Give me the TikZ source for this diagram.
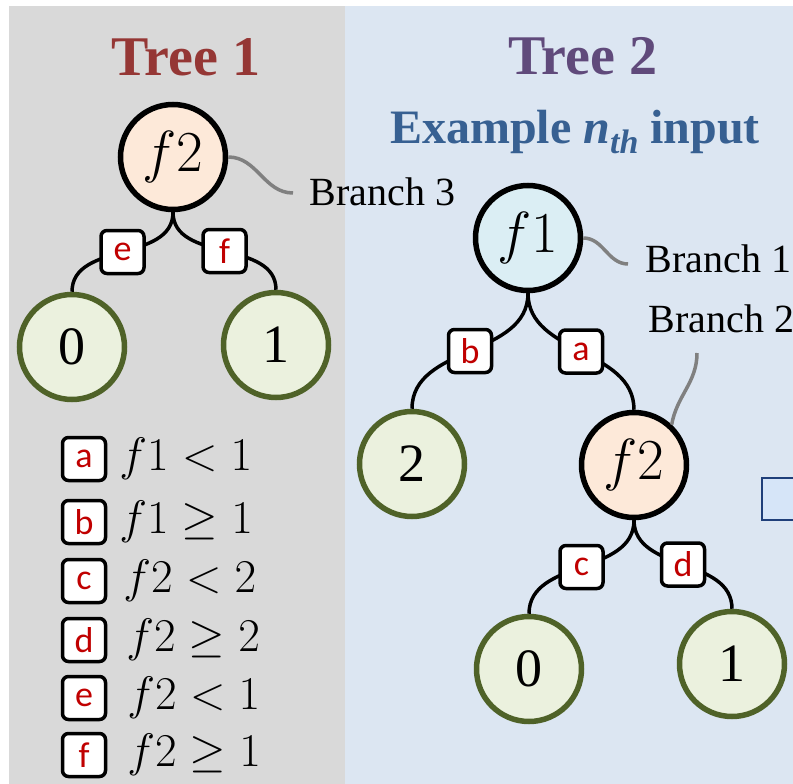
\RequirePackage{fix-cm}
\documentclass[tikz,border=0pt]{standalone}
\usepackage{fontspec}
\setmainfont{Liberation Serif}
\newfontfamily\lblfont{Carlito}
\usepackage{amsmath,amssymb}
\usepackage{tikz}

\definecolor{panelgray}{HTML}{D9D9D9}
\definecolor{panelblue}{HTML}{DCE6F2}
\definecolor{treered}{HTML}{953735}
\definecolor{treepurple}{HTML}{604A7B}
\definecolor{exblue}{HTML}{376092}
\definecolor{rootpeach}{HTML}{FDE9D9}
\definecolor{rootblue}{HTML}{DBEEF4}
\definecolor{leaffill}{HTML}{EBF1DE}
\definecolor{leafline}{HTML}{4F6228}
\definecolor{condred}{HTML}{C00000}
\definecolor{brgray}{HTML}{808080}
\definecolor{cutfill}{HTML}{D6E5F8}
\definecolor{cutline}{HTML}{1F3F7A}

\begin{document}
\begin{tikzpicture}[x=1pt,y=1pt,
  fnode/.style={circle,draw=black,line width=5.5pt,minimum size=105pt,
    inner sep=0pt,font=\fontsize{58}{58}\selectfont},
  leaf/.style={fnode,draw=leafline,fill=leaffill,font=\fontsize{54}{54}\selectfont},
  cond/.style={draw=black,fill=white,rounded corners=6pt,line width=3.5pt,
    minimum size=43pt,inner sep=0pt,text=condred,
    font=\lblfont\fontsize{36}{36}\selectfont},
  split/.style={line width=3.5pt,draw=black},
  branch/.style={line width=3.5pt,draw=brgray},
  blab/.style={anchor=base west,font=\fontsize{40}{40}\selectfont},
  title/.style={anchor=base,font=\bfseries\fontsize{56}{56}\selectfont}]
  \useasboundingbox (0,0) rectangle (793,-784);
  \fill[panelgray] (9,-6) rectangle (345,-784);
  \fill[panelblue] (345,-6) rectangle (793,-784);
  \draw[line width=2pt,draw=cutline,fill=cutfill] (762,-478) rectangle (820,-520);

  % Tree 1
  \node[title,text=treered] (t1title) at (186,-76) {Tree 1};
  \node[fnode,fill=rootpeach] (t1root) at (173,-157) {$f2$};
  \node[leaf] (t1zero) at (72,-347) {0};
  \node[leaf] (t1one) at (276,-345) {1};
  \draw[split] (t1root.south) to[out=-90,in=90] node[cond] {e} (t1zero.north);
  \draw[split] (t1root.south) to[out=-90,in=90] node[cond] {f} (t1one.north);
  \node[blab] (b3lab) at (306,-205) {Branch 3};
  \coordinate (b3end) at (293,-193);
  \draw[branch] (t1root.east) to[out=0,in=180] (b3end);

  % legend
  \foreach \l/\y/\dx/\txt in {a/459/12/{$f1<1$},b/522/12/{$f1\geq 1$},
      c/581/16/{$f2<2$},d/640/19/{$f2\geq 2$},
      e/698/20/{$f2<1$},f/755/20/{$f2\geq 1$}}{
    \node[cond] (key\l) at (84,-\y) {\l};
    \node[anchor=west,inner sep=0pt,font=\fontsize{47}{47}\selectfont]
      (rule\l) at ([xshift=\dx pt]key\l.east) {\txt};
  }

  % Tree 2
  \node[title,text=treepurple] (t2title) at (583,-75) {Tree 2};
  \node[anchor=base,text=exblue,font=\bfseries\fontsize{48}{48}\selectfont]
    (t2sub) at (575,-143) {Example \textit{n}\raisebox{-0.22em}{\fontsize{34}{34}\selectfont\textit{th}} input};
  \node[fnode,fill=rootblue] (t2root) at (528,-238) {$f1$};
  \node[leaf] (t2two) at (412,-464) {2};
  \node[fnode,fill=rootpeach] (t2f2) at (634,-465) {$f2$};
  \node[leaf] (t2zero) at (529,-669) {0};
  \node[leaf] (t2one) at (732,-664) {1};
  \draw[split] (t2root.south) to[out=-90,in=90] node[cond] {b} (t2two.north);
  \draw[split] (t2root.south) to[out=-90,in=90] node[cond] {a} (t2f2.north);
  \draw[split] (t2f2.south) to[out=-90,in=90] node[cond] {c} (t2zero.north);
  \draw[split] (t2f2.south) to[out=-90,in=90] node[cond] {d} (t2one.north);
  \node[blab] (b1lab) at (642,-272) {Branch 1};
  \node[blab] (b2lab) at (645,-332) {Branch 2};
  \coordinate (b1end) at (628,-264);
  \coordinate (b2top) at (697,-353);
  \draw[branch] (t2root.east) to[out=0,in=180] (b1end);
  \draw[branch] (b2top) to[out=-90,in=80] (t2f2.47);
\end{tikzpicture}
\end{document}
